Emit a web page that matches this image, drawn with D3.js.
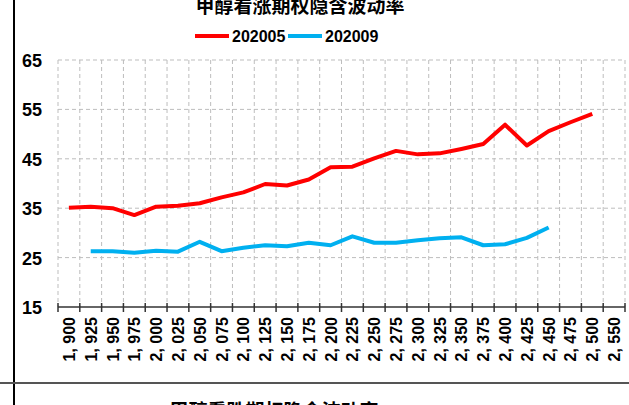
<!DOCTYPE html>
<html>
<head>
<meta charset="utf-8">
<script src="https://cdn.jsdelivr.net/npm/d3@7"></script>
<style>
  body { margin: 0; background: #fff; }
  svg { display: block; font-family: "Liberation Sans", Arial, sans-serif; }
</style>
</head>
<body>
<svg id="chart" width="629" height="405"></svg>
<script>
'use strict';

// strike prices (x categories)
var strikes = [1900, 1925, 1950, 1975, 2000, 2025, 2050, 2075, 2100, 2125, 2150, 2175, 2200,
    2225, 2250, 2275, 2300, 2325, 2350, 2375, 2400, 2425, 2450, 2475, 2500, 2550];

// implied volatility, null = no quote
var iv202005 = [35.1, 35.3, 35.0, 33.6, 35.3, 35.5, 36.0, 37.2, 38.2, 39.9, 39.6, 40.8, 43.3,
    43.4, 45.1, 46.6, 45.9, 46.1, 47.0, 48.0, 51.9, 47.7, 50.6, 52.4, 54.1, null];
var iv202009 = [null, 26.3, 26.3, 26.0, 26.4, 26.2, 28.2, 26.3, 27.0, 27.5, 27.3, 28.0, 27.5,
    29.3, 28.0, 28.0, 28.5, 28.9, 29.1, 27.5, 27.7, 29.0, 31.1, null, null, null];

var yTicks = [15, 25, 35, 45, 55, 65];

var seriesList = [
    { name: '202005', values: iv202005, color: '#ff0000' },
    { name: '202009', values: iv202009, color: '#00b0f0' }
];

var svg = d3.select('#chart');

var plot = { left: 58, right: 625, top: 60, bottom: 307 };

var x = d3.scaleBand()
    .domain(strikes)
    .range([plot.left, plot.right]);

var y = d3.scaleLinear()
    .domain([15, 65])
    .range([plot.bottom, plot.top]);

var fmt = function (d) { return d3.format(',')(d).replace(',', ', '); };

// frame lines of the page
svg.append('line')
    .attr('x1', 14).attr('x2', 14).attr('y1', 0).attr('y2', 405)
    .attr('stroke', '#000').attr('stroke-width', 2);
svg.append('line')
    .attr('x1', 0).attr('x2', 629).attr('y1', 383).attr('y2', 383)
    .attr('stroke', '#555').attr('stroke-width', 2);

// title (cut at top)
svg.append('text')
    .attr('x', 300).attr('y', 13)
    .attr('text-anchor', 'middle')
    .attr('font-family', '"Noto Sans CJK SC", sans-serif')
    .attr('font-weight', 'bold')
    .attr('font-size', 19)
    .text('甲醇看涨期权隐含波动率');

// next chart title below, mostly cut off
svg.append('text')
    .attr('x', 274).attr('y', 418)
    .attr('text-anchor', 'middle')
    .attr('font-family', '"Noto Sans CJK SC", sans-serif')
    .attr('font-weight', 'bold')
    .attr('font-size', 19)
    .text('甲醇看跌期权隐含波动率');

// grid
var grid = svg.append('g').attr('class', 'grid')
    .attr('stroke', '#bdbdbd').attr('stroke-dasharray', '4,3').attr('stroke-width', 1);

grid.selectAll('.hgrid')
    .data(yTicks.filter(function (d) { return d > 15; }))
    .enter().append('line')
    .attr('x1', plot.left).attr('x2', plot.right)
    .attr('y1', function (d) { return y(d); })
    .attr('y2', function (d) { return y(d); });

grid.selectAll('.vgrid')
    .data(strikes.concat(['end']))
    .enter().append('line')
    .attr('x1', function (d) { return d === 'end' ? plot.right : x(d); })
    .attr('x2', function (d) { return d === 'end' ? plot.right : x(d); })
    .attr('y1', plot.top).attr('y2', plot.bottom);

// y labels
svg.append('g').selectAll('text')
    .data(yTicks)
    .enter().append('text')
    .attr('x', 42)
    .attr('y', function (d) { return y(d) + 7; })
    .attr('text-anchor', 'end')
    .attr('font-weight', 'bold')
    .attr('font-size', 18)
    .text(function (d) { return d; });

// x axis
var xAxis = svg.append('g');
xAxis.append('line')
    .attr('x1', plot.left).attr('x2', plot.right)
    .attr('y1', plot.bottom).attr('y2', plot.bottom)
    .attr('stroke', '#333').attr('stroke-width', 1.5);
xAxis.selectAll('.tick')
    .data(strikes.concat(['end']))
    .enter().append('line')
    .attr('x1', function (d) { return d === 'end' ? plot.right : x(d); })
    .attr('x2', function (d) { return d === 'end' ? plot.right : x(d); })
    .attr('y1', plot.bottom - 4).attr('y2', plot.bottom + 5)
    .attr('stroke', '#333').attr('stroke-width', 1.5);
xAxis.selectAll('text')
    .data(strikes)
    .enter().append('text')
    .attr('transform', function (d) {
        return 'translate(' + (x(d) + x.bandwidth() / 2 + 6) + ',' + (plot.bottom + 10) + ') rotate(-90)';
    })
    .attr('text-anchor', 'end')
    .attr('font-weight', 'bold')
    .attr('font-size', 16)
    .text(fmt);

// lines
var line = d3.line()
    .defined(function (d) { return d.v !== null; })
    .x(function (d) { return x(d.k) + x.bandwidth() / 2; })
    .y(function (d) { return y(d.v); });

seriesList.forEach(function (s) {
    var pts = strikes.map(function (k, i) { return { k: k, v: s.values[i] }; });
    svg.append('path')
        .datum(pts)
        .attr('d', line)
        .attr('fill', 'none')
        .attr('stroke', s.color)
        .attr('stroke-width', 4)
        .attr('stroke-linejoin', 'round');
});

// legend
var legend = svg.append('g').attr('transform', 'translate(195,36)');
var lx = 0;
seriesList.forEach(function (s) {
    legend.append('line')
        .attr('x1', lx).attr('x2', lx + 34)
        .attr('y1', 0).attr('y2', 0)
        .attr('stroke', s.color).attr('stroke-width', 4);
    legend.append('text')
        .attr('x', lx + 37).attr('y', 6)
        .attr('font-weight', 'bold')
        .attr('font-size', 16)
        .text(s.name);
    lx += 93;
});
</script>
</body>
</html>
